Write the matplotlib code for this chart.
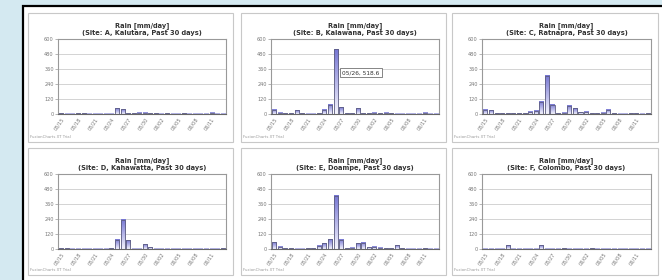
import numpy as np
import matplotlib.pyplot as plt
from matplotlib.patches import Rectangle
from matplotlib.colors import LinearSegmentedColormap

dates = ['05/15', '05/16', '05/17', '05/18', '05/19', '05/20', '05/21', '05/22',
         '05/23', '05/24', '05/25', '05/26', '05/27', '05/28', '05/29', '05/30',
         '05/31', '06/01', '06/02', '06/03', '06/04', '06/05', '06/06', '06/07',
         '06/08', '06/09', '06/10', '06/11', '06/12', '06/13']

sites = ['A, Kalutara', 'B, Kalawana', 'C, Ratnapra',
         'D, Kahawatta', 'E, Doampe', 'F, Colombo']

kalutara = [5, 3, 2, 8, 5, 3, 3, 2, 3, 3, 45, 40, 5, 5, 10, 10, 8, 5, 3, 8,
            3, 3, 5, 3, 2, 3, 3, 12, 3, 3]
kalawana = [35, 12, 5, 5, 30, 8, 3, 3, 5, 35, 75, 518.6, 55, 8, 5, 45, 8, 5, 10, 5,
            10, 8, 3, 2, 2, 2, 2, 12, 3, 3]
ratnapra = [35, 30, 5, 8, 5, 5, 5, 5, 20, 25, 100, 305, 75, 5, 10, 65, 45, 15, 20, 5,
            5, 10, 35, 5, 3, 3, 5, 8, 3, 5]
kahawatta = [8, 5, 2, 2, 3, 3, 2, 2, 3, 5, 75, 235, 70, 3, 3, 40, 15, 3, 3, 2,
             2, 2, 2, 2, 3, 2, 2, 3, 2, 5]
doampe = [55, 20, 5, 5, 3, 3, 5, 5, 25, 45, 80, 425, 75, 8, 10, 45, 50, 15, 20, 12,
          5, 8, 30, 8, 3, 2, 3, 5, 3, 3]
colombo = [3, 2, 2, 2, 30, 2, 2, 2, 2, 3, 30, 3, 3, 3, 5, 3, 2, 3, 3, 5,
           3, 3, 3, 2, 2, 2, 2, 3, 2, 3]

series = [kalutara, kalawana, ratnapra, kahawatta, doampe, colombo]
y_ticks = [0, 120, 240, 360, 480, 600]

W, H = 662, 280
fig = plt.figure(figsize=(W / 100, H / 100), dpi=100)
fig.patch.set_facecolor('#d4e9f1')


def frac(x0, y0, x1, y1):
    # pixel box -> figure fraction [left, bottom, width, height]
    return [x0 / W, 1 - y1 / H, (x1 - x0) / W, (y1 - y0) / H]


# white page with black frame
fig.add_artist(Rectangle((23 / W, -0.1), 1.2, 1.1 - 6 / H, transform=fig.transFigure,
                         facecolor='white', edgecolor='black', lw=1.6, zorder=-3))

cols = [(28, 233), (241, 446), (452, 658)]
rows = [(13, 142), (148, 275)]
cmap = LinearSegmentedColormap.from_list('bar', ['#f4f4fd', '#7676d2'])
grad = np.linspace(0, 1, 64).reshape(-1, 1)
x = np.arange(len(dates))
w = 0.72

for k, (site, vals) in enumerate(zip(sites, series)):
    r, c = divmod(k, 3)
    px0, px1 = cols[c]
    py0, py1 = rows[r]
    l, b, ww, hh = frac(px0, py0, px1, py1)
    fig.add_artist(Rectangle((l, b), ww, hh, transform=fig.transFigure,
                             facecolor='white', edgecolor='#c8c8c8', lw=0.8, zorder=-2))
    ax = fig.add_axes(frac(px0 + 30, py0 + 26, px1 - 7, py0 + 101))

    for xi, v in zip(x, vals):
        ax.imshow(grad, extent=(xi - w / 2, xi + w / 2, 0, v), origin='lower',
                  cmap=cmap, aspect='auto', zorder=2)
    ax.bar(x, vals, width=w, facecolor='none', edgecolor='#5c5c80', lw=0.6, zorder=3)

    ax.set_xlim(-0.6, len(dates) - 0.4)
    ax.set_ylim(0, 600)
    ax.set_yticks(y_ticks)
    ax.set_xticks(x[::3])
    ax.set_xticklabels(dates[::3], rotation=55, ha='right', rotation_mode='anchor')
    ax.tick_params(axis='x', length=0, pad=2, labelsize=3.6, labelcolor='#777777')
    ax.tick_params(axis='y', length=2, width=0.5, pad=1, labelsize=3.6,
                   labelcolor='#777777', color='#999999')
    ax.yaxis.grid(True, color='#cccccc', lw=0.6)
    ax.set_axisbelow(True)
    for sp in ax.spines.values():
        sp.set_color('#999999')
        sp.set_linewidth(0.8)
    ax.spines['bottom'].set_color('#666666')

    ax.set_title('Rain [mm/day]\n(Site: %s, Past 30 days)' % site, fontsize=4.8,
                 fontweight='bold', color='#333333', pad=3, linespacing=1.15)
    fig.text((px0 + 2) / W, 1 - (py1 - 5) / H, 'FusionCharts XT Trial',
             fontsize=2.8, color='#999999', va='center')

    if k == 1:
        peak = int(np.argmax(vals))
        ax.annotate('%s, %.1f' % (dates[peak], vals[peak]), xy=(peak, vals[peak]),
                    xytext=(5, -17), textcoords='offset points', ha='left', va='center',
                    fontsize=4.2, color='#333333', zorder=5,
                    bbox=dict(boxstyle='square,pad=0.35', fc='white', ec='#555555', lw=0.5))

fig.savefig('out.png', dpi=100, facecolor=fig.get_facecolor())
